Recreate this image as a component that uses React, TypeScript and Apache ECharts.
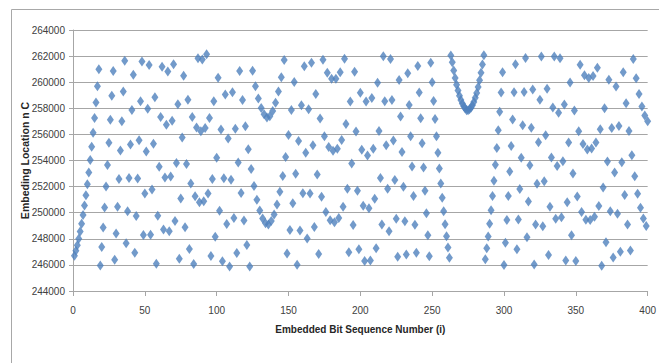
import React, { useEffect, useRef } from "react";
import * as echarts from "echarts";

// Sequence numbers start at 1 and increase by 1 for each value below.
const firstIndex = 1;

// Embedding location for i = 1..100
const locations1 = [
  246700, 247080, 247510, 248000, 248550, 249160, 249830, 250550, 251340, 252180,
  253080, 254030, 255050, 256120, 257250, 258440, 259690, 261000, 245960, 247380,
  248860, 250400, 252000, 253650, 255360, 257130, 258960, 260850, 246400, 248400,
  250460, 252580, 254760, 257000, 259290, 261640, 247650, 250120, 252650, 255230,
  257870, 260570, 246930, 249750, 252620, 255550, 258540, 261590, 248300, 251470,
  254690, 257970, 261310, 248310, 251770, 255280, 258850, 246080, 249770, 253520,
  257330, 261190, 248710, 252690, 256730, 260820, 248570, 252780, 257050, 261380,
  249370, 253810, 258310, 246470, 251090, 255770, 260500, 248890, 253740, 258650,
  247220, 252240, 257330, 246070, 251270, 256520, 261840, 250810, 256240, 261730,
  250880, 256490, 262150, 251470, 257250, 246690, 252590, 258540, 248150, 254220,
];

// Embedding location for i = 101..200
const locations2 = [
  260350, 250140, 256380, 246280, 252640, 259060, 249140, 255680, 245870, 252520,
  259230, 249600, 256430, 246910, 253850, 260850, 251510, 258630, 249400, 256630,
  247520, 254870, 245880, 253350, 260870, 252050, 259690, 250990, 258750, 250160,
  258030, 249560, 257550, 249200, 257300, 249100, 257400, 249370, 257790, 249870,
  258420, 250620, 259280, 251600, 260370, 252810, 261710, 254260, 246870, 255950,
  248680, 257870, 250720, 260020, 252980, 246010, 255490, 248630, 258240, 251500,
  261220, 254600, 248030, 257920, 251480, 261490, 255160, 248900, 259090, 252930,
  246840, 257210, 251230, 261720, 255860, 250060, 260730, 255040, 249420, 260260,
  254750, 249270, 260260, 254900, 249600, 260760, 255580, 250450, 261790, 256790,
  251840, 246960, 258530, 253770, 249060, 260810, 256220, 251680, 247200, 259190,
];

// Embedding location for i = 201..300
const locations3 = [
  254830, 250530, 246300, 258520, 254390, 250340, 246330, 258780, 254900, 251070,
  247280, 259950, 256270, 252650, 249090, 261990, 258540, 255160, 251840, 248580,
  261780, 258630, 255540, 252510, 249540, 246620, 260170, 257380, 254650, 251980,
  249350, 246790, 260690, 258250, 255860, 253540, 251280, 249080, 246940, 261240,
  259210, 257240, 255330, 253470, 251680, 249950, 248280, 246670, 261500, 260000,
  258560, 257180, 255850, 254590, 253390, 252240, 251140, 250110, 249120, 248200,
  247340, 246540, 262050, 261520, 260890, 260320, 259810, 259360, 258970, 258640,
  258360, 258150, 257990, 257860, 257860, 257920, 258040, 258230, 258480, 258800,
  259180, 259630, 260140, 260720, 261360, 262070, 246440, 247280, 248180, 249150,
  250180, 251280, 252440, 253670, 254960, 256320, 257740, 259220, 260770, 245990,
];

// Embedding location for i = 301..400
const locations4 = [
  247690, 249450, 251280, 253160, 255120, 257140, 259230, 261370, 247190, 249470,
  251820, 254220, 256700, 259240, 261850, 248110, 250850, 253640, 256510, 259440,
  246040, 249090, 252220, 255400, 258660, 261970, 248960, 252410, 255930, 259500,
  246750, 250450, 254230, 258060, 261970, 249530, 253570, 257660, 261830, 249650,
  253950, 258300, 246330, 250810, 255370, 259980, 248270, 253010, 257830, 246300,
  251250, 256250, 261330, 250060, 255270, 260530, 249460, 254850, 260320, 249440,
  254920, 260470, 249690, 255370, 261100, 250510, 256390, 245930, 251930, 258000,
  247730, 253930, 260180, 250110, 256500, 246560, 253080, 259670, 249920, 256640,
  247010, 253860, 260770, 251350, 258390, 249100, 256270, 247110, 254400, 261770,
  252800, 260300, 251460, 259090, 250380, 258140, 249550, 257440, 248990, 257010,
];

const xAxisRange = [0, 400];
const xAxisStep = 50;
const yAxisRange = [244000, 264000];
const yAxisStep = 2000;

const xTitle = "Embedded Bit Sequence Number (i)";
const yTitle = "Embeding Location n C";

const FONT = "'Liberation Sans Narrow', 'Arial Narrow', 'Liberation Sans', Arial, sans-serif";

export default function App() {
  const ref = useRef<HTMLDivElement>(null);

  useEffect(() => {
    document.body.style.margin = "0";
    const el = ref.current;
    if (!el) return;
    const chart = echarts.init(el, undefined, { renderer: "svg" });
    const values = [...locations1, ...locations2, ...locations3, ...locations4];
    const data = values.map((v, k) => [firstIndex + k, v]);

    chart.setOption({
      animation: false,
      backgroundColor: "#ffffff",
      graphic: [
        {
          type: "rect",
          shape: { x: 11.5, y: 9.5, width: 700, height: 400 },
          style: { fill: "none", stroke: "#a8a8a8", lineWidth: 1 },
          silent: true,
        },
      ],
      grid: { left: 73, right: 7, top: 30, bottom: 72 },
      xAxis: {
        type: "value",
        min: xAxisRange[0],
        max: xAxisRange[1],
        interval: xAxisStep,
        name: xTitle,
        nameLocation: "middle",
        nameGap: 33,
        nameMoveOverlap: false,
        nameTextStyle: { fontFamily: FONT, fontSize: 10, fontWeight: "bold", color: "#262626" },
        axisLine: { lineStyle: { color: "#a6a6a6", width: 1 } },
        axisTick: { show: true, inside: false, length: 5, lineStyle: { color: "#a6a6a6" } },
        axisLabel: {
          fontFamily: FONT,
          fontSize: 10,
          color: "#404040",
          margin: 14,
          formatter: (v: number) => String(v),
        },
        splitLine: { show: false },
      },
      yAxis: {
        type: "value",
        min: yAxisRange[0],
        max: yAxisRange[1],
        interval: yAxisStep,
        name: yTitle,
        nameLocation: "middle",
        nameGap: 43,
        nameRotate: 90,
        nameMoveOverlap: false,
        nameTextStyle: { fontFamily: FONT, fontSize: 10.5, fontWeight: "bold", color: "#262626" },
        axisLine: { show: true, lineStyle: { color: "#a6a6a6", width: 1 } },
        axisTick: { show: true, inside: false, length: 4, lineStyle: { color: "#a6a6a6" } },
        axisLabel: {
          fontFamily: FONT,
          fontSize: 10,
          color: "#404040",
          margin: 8,
          formatter: (v: number) => String(v),
        },
        splitLine: { show: true, lineStyle: { color: "#a6a6a6", width: 1 } },
      },
      series: [
        {
          type: "scatter",
          data,
          symbol: "diamond",
          symbolSize: [7, 10],
          itemStyle: { color: "#4F81BD" },
        },
      ],
    });

    return () => chart.dispose();
  }, []);

  return <div ref={ref} style={{ width: 659, height: 363 }} />;
}
